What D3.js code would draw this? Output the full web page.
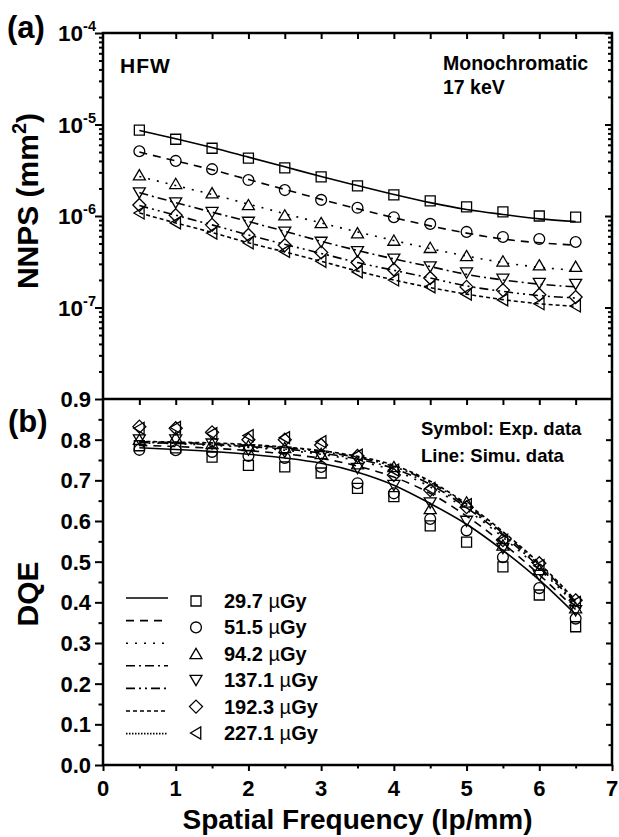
<!DOCTYPE html>
<html><head><meta charset="utf-8">
<script src="https://cdn.jsdelivr.net/npm/d3@7"></script>
<style>
body{margin:0;background:#fff}
svg{display:block}
text{font-family:"Liberation Sans",Arial,sans-serif;font-weight:bold;fill:#000}
</style>
</head><body>
<svg id="c" width="619" height="837"></svg>
<script>
// ---------------- DATA ----------------
const freq = [0.5, 1, 1.5, 2, 2.5, 3, 3.5, 4, 4.5, 5, 5.5, 6, 6.5];
const doses = ["29.7", "51.5", "94.2", "137.1", "192.3", "227.1"];
const markerShapes = ["square", "circle", "triangleUp", "triangleDown", "diamond", "triangleLeft"];

// NNPS experimental (mm^2)
const nnpsExp_29_7  = [8.7e-6, 6.9e-6, 5.5e-6, 4.3e-6, 3.35e-6, 2.67e-6, 2.13e-6, 1.70e-6, 1.46e-6, 1.26e-6, 1.11e-6, 1.00e-6, 0.97e-6];
const nnpsExp_51_5  = [5.1e-6, 4.0e-6, 3.25e-6, 2.47e-6, 1.92e-6, 1.50e-6, 1.23e-6, 0.97e-6, 0.82e-6, 0.67e-6, 0.59e-6, 0.56e-6, 0.52e-6];
const nnpsExp_94_2  = [2.8e-6, 2.25e-6, 1.78e-6, 1.32e-6, 1.02e-6, 0.84e-6, 0.65e-6, 0.54e-6, 0.45e-6, 0.366e-6, 0.32e-6, 0.29e-6, 0.28e-6];
const nnpsExp_137_1 = [1.8e-6, 1.4e-6, 1.1e-6, 0.86e-6, 0.67e-6, 0.52e-6, 0.41e-6, 0.34e-6, 0.28e-6, 0.24e-6, 0.205e-6, 0.185e-6, 0.18e-6];
const nnpsExp_192_3 = [1.32e-6, 1.02e-6, 0.80e-6, 0.62e-6, 0.48e-6, 0.40e-6, 0.31e-6, 0.26e-6, 0.21e-6, 0.168e-6, 0.155e-6, 0.138e-6, 0.13e-6];
const nnpsExp_227_1 = [1.08e-6, 0.84e-6, 0.65e-6, 0.51e-6, 0.41e-6, 0.32e-6, 0.245e-6, 0.20e-6, 0.168e-6, 0.14e-6, 0.121e-6, 0.11e-6, 0.104e-6];

// NNPS simulation (mm^2)
const nnpsSim_29_7  = [8.6e-6, 7.0e-6, 5.6e-6, 4.4e-6, 3.45e-6, 2.7e-6, 2.15e-6, 1.72e-6, 1.40e-6, 1.18e-6, 1.04e-6, 0.93e-6, 0.87e-6];
const nnpsSim_51_5  = [5.0e-6, 4.0e-6, 3.2e-6, 2.5e-6, 1.95e-6, 1.52e-6, 1.2e-6, 0.96e-6, 0.78e-6, 0.65e-6, 0.56e-6, 0.51e-6, 0.48e-6];
const nnpsSim_94_2  = [2.7e-6, 2.15e-6, 1.72e-6, 1.35e-6, 1.06e-6, 0.84e-6, 0.67e-6, 0.54e-6, 0.44e-6, 0.365e-6, 0.31e-6, 0.275e-6, 0.255e-6];
const nnpsSim_137_1 = [1.8e-6, 1.4e-6, 1.1e-6, 0.87e-6, 0.68e-6, 0.53e-6, 0.42e-6, 0.34e-6, 0.28e-6, 0.23e-6, 0.20e-6, 0.18e-6, 0.168e-6];
const nnpsSim_192_3 = [1.3e-6, 1.02e-6, 0.80e-6, 0.62e-6, 0.49e-6, 0.39e-6, 0.31e-6, 0.255e-6, 0.21e-6, 0.172e-6, 0.15e-6, 0.135e-6, 0.127e-6];
const nnpsSim_227_1 = [1.08e-6, 0.84e-6, 0.66e-6, 0.51e-6, 0.405e-6, 0.32e-6, 0.25e-6, 0.20e-6, 0.165e-6, 0.14e-6, 0.122e-6, 0.11e-6, 0.103e-6];

// DQE experimental
const dqeExp_29_7  = [0.785, 0.780, 0.757, 0.737, 0.733, 0.718, 0.680, 0.660, 0.588, 0.548, 0.487, 0.418, 0.340];
const dqeExp_51_5  = [0.775, 0.774, 0.770, 0.760, 0.755, 0.733, 0.693, 0.668, 0.605, 0.577, 0.511, 0.435, 0.360];
const dqeExp_94_2  = [0.800, 0.805, 0.790, 0.785, 0.780, 0.765, 0.740, 0.733, 0.630, 0.646, 0.540, 0.480, 0.386];
const dqeExp_137_1 = [0.800, 0.800, 0.790, 0.775, 0.770, 0.760, 0.730, 0.688, 0.645, 0.600, 0.533, 0.467, 0.380];
const dqeExp_192_3 = [0.832, 0.828, 0.818, 0.800, 0.800, 0.787, 0.760, 0.713, 0.676, 0.634, 0.553, 0.496, 0.405];
const dqeExp_227_1 = [0.828, 0.830, 0.815, 0.810, 0.805, 0.795, 0.762, 0.725, 0.680, 0.640, 0.553, 0.490, 0.400];

// DQE simulation
const dqeSim_29_7  = [0.780, 0.776, 0.771, 0.764, 0.755, 0.742, 0.720, 0.688, 0.643, 0.592, 0.528, 0.455, 0.370];
const dqeSim_51_5  = [0.786, 0.783, 0.779, 0.773, 0.765, 0.754, 0.735, 0.708, 0.668, 0.612, 0.545, 0.468, 0.382];
const dqeSim_94_2  = [0.792, 0.790, 0.786, 0.781, 0.774, 0.764, 0.748, 0.724, 0.684, 0.628, 0.560, 0.482, 0.394];
const dqeSim_137_1 = [0.793, 0.791, 0.788, 0.783, 0.777, 0.767, 0.752, 0.729, 0.690, 0.633, 0.565, 0.487, 0.398];
const dqeSim_192_3 = [0.795, 0.793, 0.790, 0.786, 0.780, 0.771, 0.756, 0.734, 0.695, 0.638, 0.570, 0.492, 0.402];
const dqeSim_227_1 = [0.796, 0.794, 0.792, 0.788, 0.782, 0.773, 0.759, 0.737, 0.698, 0.642, 0.574, 0.496, 0.405];

const nnpsExp = [nnpsExp_29_7, nnpsExp_51_5, nnpsExp_94_2, nnpsExp_137_1, nnpsExp_192_3, nnpsExp_227_1];
const nnpsSim = [nnpsSim_29_7, nnpsSim_51_5, nnpsSim_94_2, nnpsSim_137_1, nnpsSim_192_3, nnpsSim_227_1];
const dqeExp = [dqeExp_29_7, dqeExp_51_5, dqeExp_94_2, dqeExp_137_1, dqeExp_192_3, dqeExp_227_1];
const dqeSim = [dqeSim_29_7, dqeSim_51_5, dqeSim_94_2, dqeSim_137_1, dqeSim_192_3, dqeSim_227_1];

const xTicks = [0, 1, 2, 3, 4, 5, 6, 7];
const nnpsTickExps = [-4, -5, -6, -7];
const dqeTicks = [0.0, 0.1, 0.2, 0.3, 0.4, 0.5, 0.6, 0.7, 0.8, 0.9];

// line styles: series 0..5 use first six of the seven legend samples
const legendLineDash = ["none", "8,6", "2,7", "9,4,2,4", "9,4,2,4,2,4", "4,3", "1.5,1.5"];
const seriesDashIndex = [0, 1, 2, 3, 4, 5];

// ---------------- LAYOUT ----------------
const svg = d3.select("#c");
const L = 103, R = 612, T = 33, MID = 399, B = 765;
const x = d3.scaleLinear().domain([0, 7]).range([L, R]);
const yN = d3.scaleLog().domain([1e-8, 1e-4]).range([MID, T]);
const yD = d3.scaleLinear().domain([0, 0.9]).range([B, MID]);

function markerPath(shape, s) {
  const p = d3.path();
  if (shape === "square") { p.rect(-s, -s, 2 * s, 2 * s); }
  else if (shape === "circle") { p.arc(0, 0, s * 1.08, 0, 2 * Math.PI); p.closePath(); }
  else if (shape === "triangleUp") { p.moveTo(0, -s * 1.1); p.lineTo(s * 1.2, s * 0.95); p.lineTo(-s * 1.2, s * 0.95); p.closePath(); }
  else if (shape === "triangleDown") { p.moveTo(0, s * 1.1); p.lineTo(s * 1.2, -s * 0.95); p.lineTo(-s * 1.2, -s * 0.95); p.closePath(); }
  else if (shape === "diamond") { p.moveTo(0, -s * 1.3); p.lineTo(s * 1.3, 0); p.lineTo(0, s * 1.3); p.lineTo(-s * 1.3, 0); p.closePath(); }
  else if (shape === "triangleLeft") { p.moveTo(-s * 1.1, 0); p.lineTo(s * 0.95, -s * 1.2); p.lineTo(s * 0.95, s * 1.2); p.closePath(); }
  return p.toString();
}

function styleAxis(g) {
  g.select(".domain").remove();
  g.selectAll(".tick line").attr("stroke", "#000").attr("stroke-width", 2);
  g.selectAll(".tick text").remove();
}

// ----- data layers -----
const lineN = d3.line().x((d, i) => x(freq[i])).y(d => yN(d)).curve(d3.curveMonotoneX);
const lineD = d3.line().x((d, i) => x(freq[i])).y(d => yD(d)).curve(d3.curveMonotoneX);

const gN = svg.append("g");
nnpsSim.forEach((arr, k) => {
  gN.append("path").attr("d", lineN(arr)).attr("fill", "none").attr("stroke", "#000")
    .attr("stroke-width", 1.6).attr("stroke-dasharray", legendLineDash[seriesDashIndex[k]]);
});
nnpsExp.forEach((arr, k) => {
  gN.selectAll(null).data(arr).enter().append("path")
    .attr("transform", (d, i) => `translate(${x(freq[i])},${yN(d)})`)
    .attr("d", markerPath(markerShapes[k], 5))
    .attr("fill", "none").attr("stroke", "#000").attr("stroke-width", 1.3);
});

const gD = svg.append("g");
dqeSim.forEach((arr, k) => {
  gD.append("path").attr("d", lineD(arr)).attr("fill", "none").attr("stroke", "#000")
    .attr("stroke-width", 1.6).attr("stroke-dasharray", legendLineDash[seriesDashIndex[k]]);
});
dqeExp.forEach((arr, k) => {
  gD.selectAll(null).data(arr).enter().append("path")
    .attr("transform", (d, i) => `translate(${x(freq[i])},${yD(d)})`)
    .attr("d", markerPath(markerShapes[k], 5))
    .attr("fill", "none").attr("stroke", "#000").attr("stroke-width", 1.3);
});

// ----- axes -----
const halfTicks = d3.range(0, 7.01, 0.5);
const minorX = halfTicks.filter(v => v % 1 !== 0);
svg.append("g").attr("transform", `translate(0,${T})`)
  .call(d3.axisBottom(x).tickValues(halfTicks.filter(v => v > 0 && v < 7)).tickSize(6)).call(styleAxis);
svg.append("g").attr("transform", `translate(0,${MID})`)
  .call(d3.axisBottom(x).tickValues(halfTicks.filter(v => v > 0 && v < 7)).tickSize(6)).call(styleAxis);
svg.append("g").attr("transform", `translate(0,${B})`)
  .call(d3.axisBottom(x).tickValues(xTicks).tickSize(6)).call(styleAxis);
svg.append("g").attr("transform", `translate(0,${B})`)
  .call(d3.axisBottom(x).tickValues(minorX).tickSize(3.5)).call(styleAxis);
xTicks.forEach(v => {
  svg.append("text").attr("x", x(v)).attr("y", 796).attr("text-anchor", "middle")
    .attr("font-size", 22).text(String(v));
});

const logMajor = [1e-4, 1e-5, 1e-6, 1e-7];
const logMinor = [];
[-8, -7, -6, -5].forEach(e => { for (let m = 2; m <= 9; m++) logMinor.push(m * Math.pow(10, e)); });
svg.append("g").attr("transform", `translate(${L},0)`)
  .call(d3.axisLeft(yN).tickValues(logMajor).tickSize(8)).call(styleAxis);
svg.append("g").attr("transform", `translate(${L},0)`)
  .call(d3.axisLeft(yN).tickValues(logMinor).tickSize(4)).call(styleAxis);
svg.append("g").attr("transform", `translate(${R},0)`)
  .call(d3.axisLeft(yN).tickValues(logMajor).tickSize(7)).call(styleAxis);
svg.append("g").attr("transform", `translate(${R},0)`)
  .call(d3.axisLeft(yN).tickValues(logMinor).tickSize(4)).call(styleAxis);
nnpsTickExps.forEach(e => {
  const t = svg.append("text").attr("x", 96).attr("y", yN(Math.pow(10, e)) + 8).attr("text-anchor", "end");
  t.append("tspan").attr("font-size", 22.5).text("10");
  t.append("tspan").attr("font-size", 14.5).attr("dy", -10).text(String(e));
});

const dqeMinor = d3.range(0.05, 0.9, 0.1);
svg.append("g").attr("transform", `translate(${L},0)`)
  .call(d3.axisLeft(yD).tickValues(dqeTicks).tickSize(8)).call(styleAxis);
svg.append("g").attr("transform", `translate(${L},0)`)
  .call(d3.axisLeft(yD).tickValues(dqeMinor).tickSize(4.5)).call(styleAxis);
svg.append("g").attr("transform", `translate(${R},0)`)
  .call(d3.axisLeft(yD).tickValues(dqeTicks.filter(v => v > 0 && v < 0.9)).tickSize(6)).call(styleAxis);
svg.append("g").attr("transform", `translate(${R},0)`)
  .call(d3.axisLeft(yD).tickValues(dqeMinor).tickSize(3.5)).call(styleAxis);
dqeTicks.forEach(v => {
  svg.append("text").attr("x", 91).attr("y", yD(v) + 8).attr("text-anchor", "end")
    .attr("font-size", 22).text(d3.format(".1f")(v));
});

svg.append("rect").attr("x", L).attr("y", T).attr("width", R - L).attr("height", B - T)
  .attr("fill", "none").attr("stroke", "#000").attr("stroke-width", 2.5);
svg.append("line").attr("x1", L).attr("x2", R).attr("y1", MID).attr("y2", MID)
  .attr("stroke", "#000").attr("stroke-width", 2.5);

// titles & annotations
svg.append("text").attr("x", 7).attr("y", 38).attr("font-size", 31).text("(a)");
svg.append("text").attr("x", 8).attr("y", 432).attr("font-size", 31).text("(b)");
const yt = svg.append("text").attr("transform", "translate(38,201) rotate(-90)").attr("text-anchor", "middle");
yt.append("tspan").attr("font-size", 30).text("NNPS (mm");
yt.append("tspan").attr("font-size", 20).attr("dy", -12).text("2");
yt.append("tspan").attr("font-size", 30).attr("dy", 12).text(")");
svg.append("text").attr("transform", "translate(38,594) rotate(-90)").attr("text-anchor", "middle")
  .attr("font-size", 30).text("DQE");
svg.append("text").attr("x", (L + R) / 2).attr("y", 829).attr("text-anchor", "middle")
  .attr("font-size", 28).text("Spatial Frequency (lp/mm)");

svg.append("text").attr("x", 120).attr("y", 73).attr("font-size", 21).attr("letter-spacing", 1).text("HFW");
svg.append("text").attr("x", 443).attr("y", 70).attr("font-size", 19.5).text("Monochromatic");
svg.append("text").attr("x", 443).attr("y", 94).attr("font-size", 19.5).text("17 keV");
svg.append("text").attr("x", 421).attr("y", 435).attr("font-size", 18.5).text("Symbol: Exp. data");
svg.append("text").attr("x", 421).attr("y", 462).attr("font-size", 18.5).text("Line: Simu. data");

// legend
legendLineDash.forEach((dash, i) => {
  const yy = 598 + i * 22.6;
  svg.append("line").attr("x1", 126).attr("x2", 168).attr("y1", yy).attr("y2", yy)
    .attr("stroke", "#000").attr("stroke-width", 1.6).attr("stroke-dasharray", dash);
});
doses.forEach((d, i) => {
  const yy = 601 + i * 26.4;
  svg.append("path").attr("transform", `translate(196,${yy})`).attr("d", markerPath(markerShapes[i], 5))
    .attr("fill", "none").attr("stroke", "#000").attr("stroke-width", 1.3);
  const t = svg.append("text").attr("x", 224).attr("y", yy + 7).attr("font-size", 20);
  t.append("tspan").text(d + " ");
  t.append("tspan").attr("font-weight", "normal").text("\u00B5");
  t.append("tspan").text("Gy");
});
</script>
</body></html>
